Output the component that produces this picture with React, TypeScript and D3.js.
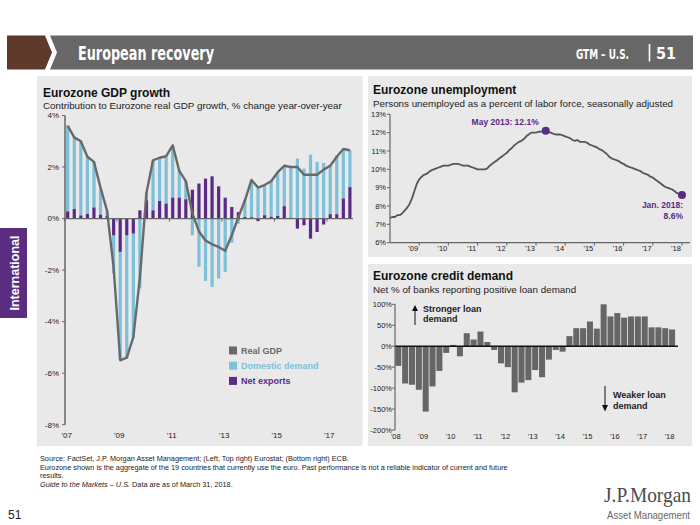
import React from 'react';
import * as d3 from 'd3';

// ---------- Eurozone GDP growth: quarterly, 2007 Q1 – 2017 Q4 (% y/y) ----------
const realGdp = [
  3.6, 3.15, 3.0, 2.4,
  2.2, 1.2, 0.3, -1.9,
  -5.5, -5.4, -4.6, -2.3,
  1.0, 2.26, 2.36, 2.42,
  2.84, 1.85, 1.45, 0.2,
  -0.5, -0.85, -1.0, -1.1,
  -1.25, -0.65, 0.05, 0.7,
  1.5, 1.2, 1.3, 1.45,
  1.8, 2.05, 2.0, 2.0,
  1.7, 1.7, 1.7, 1.9,
  2.05, 2.4, 2.7, 2.65,
];
const domesticDemand = [
  3.34, 2.79, 2.88, 2.22,
  1.77, 1.0, 0.2, -1.48,
  -4.2, -4.78, -4.07, -2.71,
  0.3, 1.94, 1.68, 1.83,
  2.03, 1.07, 0.72, -0.65,
  -1.87, -2.42, -2.65, -2.33,
  -2.07, -0.94, -0.2, 0.7,
  1.4, 1.16, 1.16, 1.41,
  1.7, 1.52, 1.95, 2.33,
  1.94, 2.48, 2.2, 2.16,
  1.9, 2.28, 1.89, 1.43,
];
const netExports = [
  0.28, 0.37, 0.12, 0.18,
  0.43, 0.15, 0.1, -0.65,
  -1.29, -0.65, -0.58, 0.32,
  0.71, 0.32, 0.68, 0.58,
  0.81, 0.81, 0.75, 1.12,
  1.36, 1.55, 1.64, 1.25,
  0.81, 0.45, 0.25, 0.06,
  0.05, -0.1, 0.13, 0.07,
  0.1, 0.48, 0.03, -0.39,
  -0.26, -0.78, -0.52, -0.23,
  0.17, 0.17, 0.78, 1.22,
];
const gdpYTicks = [4, 2, 0, -2, -4, -6, -8];
const gdpXLabels = ["'07", "'09", "'11", "'13", "'15", "'17"];

// ---------- Eurozone unemployment: monthly, Jan 2008 – Jan 2018 (%) ----------
const unemployment = [
  7.35, 7.4, 7.4, 7.5, 7.5, 7.6, 7.75, 7.9, 8.1, 8.4, 8.8, 9.2,
  9.45, 9.6, 9.7, 9.75, 9.85, 9.95, 10.0, 10.05, 10.1, 10.15, 10.2, 10.2,
  10.2, 10.25, 10.3, 10.3, 10.3, 10.25, 10.2, 10.2, 10.2, 10.15, 10.1, 10.05,
  10.0, 10.0, 10.0, 10.0, 10.05, 10.2, 10.3, 10.4, 10.5, 10.6, 10.7, 10.8,
  10.9, 11.05, 11.15, 11.3, 11.4, 11.5, 11.55, 11.65, 11.8, 11.9, 12.0, 12.0,
  12.0, 12.05, 12.05, 12.1, 12.1, 12.05, 12.0, 11.95, 11.9, 11.9, 11.9, 11.85,
  11.8, 11.75, 11.7, 11.6, 11.55, 11.6, 11.5, 11.5, 11.5, 11.45, 11.35, 11.3,
  11.25, 11.2, 11.1, 11.05, 10.95, 10.85, 10.7, 10.6, 10.55, 10.5, 10.45, 10.35,
  10.3, 10.2, 10.15, 10.1, 10.05, 10.0, 9.95, 9.9, 9.8, 9.75, 9.7, 9.6,
  9.55, 9.45, 9.35, 9.25, 9.15, 9.05, 9.0, 8.95, 8.9, 8.8, 8.7, 8.65,
  8.6,
];
const unempPeakIndex = 64; // May 2013
const unempYTicks = [6, 7, 8, 9, 10, 11, 12, 13];
const unempXLabels = ["'09", "'10", "'11", "'12", "'13", "'14", "'15", "'16", "'17", "'18"];

// ---------- Eurozone credit demand: quarterly, 2008 Q1 – 2018 Q1 (net %) ----------
const creditDemand = [
  -47, -89, -92, -104,
  -156, -96, -59, -16,
  3, -24, 31, 16,
  35, 10, -9, -41,
  -50, -110, -87, -81,
  -57, -74, -32, -9,
  -13, 24, 43, 43,
  59, 42, 100, 71,
  79, 68, 71, 71,
  71, 45, 45, 43,
  40,
];
const creditYTicks = [100, 50, 0, -50, -100, -150, -200];
const creditXLabels = ["'08", "'09", "'10", "'11", "'12", "'13", "'14", "'15", "'16", "'17", "'18"];

const SANS = 'Liberation Sans, Arial, Helvetica, sans-serif';
const NARROW = "'Liberation Sans Narrow', 'DejaVu Sans Condensed', sans-serif";
const PANEL = '#e9e9e9';
const BLUE = '#7cc0da';
const PURPLE = '#5b2a87';
const LINE = '#696969';

const GdpChart = () => {
  const x = d3.scaleLinear().domain([0, realGdp.length - 1]).range([67.7, 349.9]);
  const y = d3.scaleLinear().domain([-8, 4]).range([424.7, 115.5]);
  const bw = 3.2;
  const line = d3.line<number>().x((_, i) => x(i)).y((d) => y(d));

  const bars = realGdp.map((_, i) => {
    const n = netExports[i];
    const dd = domesticDemand[i];
    const base = Math.sign(n) === Math.sign(dd) ? n : 0;
    return { i, n, d0: base, d1: base + dd };
  });

  return (
    <g fontFamily={SANS}>
      <text x={43} y={97} fontSize={12} fontWeight="bold" fill="#111">Eurozone GDP growth</text>
      <text x={43} y={109} fontSize={9.8} fill="#222">Contribution to Eurozone real GDP growth, % change year-over-year</text>

      {bars.map((b) => (
        <g key={b.i}>
          <rect x={x(b.i) - bw / 2} width={bw} y={y(Math.max(b.d0, b.d1))} height={Math.abs(y(b.d0) - y(b.d1))} fill={BLUE} />
          <rect x={x(b.i) - bw / 2} width={bw} y={y(Math.max(0, b.n))} height={Math.abs(y(0) - y(b.n))} fill={PURPLE} />
        </g>
      ))}

      <line x1={65} x2={353} y1={y(0)} y2={y(0)} stroke="#666" strokeWidth={1.3} />
      {gdpXLabels.map((_, k) => (
        <line key={k} x1={x(k * 8) - 3.3} x2={x(k * 8) - 3.3} y1={y(0)} y2={y(0) + 3} stroke="#666" strokeWidth={1} />
      ))}
      <path d={line(realGdp) || ''} fill="none" stroke={LINE} strokeWidth={2.4} strokeLinejoin="round" />

      <line x1={65} x2={65} y1={y(4)} y2={y(-8)} stroke="#666" strokeWidth={1.5} />
      {gdpYTicks.map((t) => (
        <g key={t}>
          <line x1={62} x2={65} y1={y(t)} y2={y(t)} stroke="#666" strokeWidth={1} />
          <text x={59} y={y(t) + 2.8} textAnchor="end" fontSize={8} fill="#222">{t}%</text>
        </g>
      ))}
      {gdpXLabels.map((l, k) => (
        <text key={l} x={x(k * 8) - 1} y={438} textAnchor="middle" fontSize={8} fill="#222">{l}</text>
      ))}

      {[
        { label: 'Real GDP', color: LINE },
        { label: 'Domestic demand', color: BLUE },
        { label: 'Net exports', color: PURPLE },
      ].map((item, k) => (
        <g key={item.label} transform={`translate(229,${346.5 + k * 15.2})`}>
          <rect width={8} height={8} fill={item.color} />
          <text x={12} y={7.5} fontSize={9} fontWeight="bold" fill={item.color}>{item.label}</text>
        </g>
      ))}
    </g>
  );
};

const UnemploymentChart = () => {
  const x = d3.scaleLinear().domain([0, unemployment.length - 1]).range([390, 682]);
  const y = d3.scaleLinear().domain([6, 13]).range([242.7, 114.3]);
  const line = d3.line<number>().x((_, i) => x(i)).y((d) => y(d));
  const last = unemployment.length - 1;

  return (
    <g fontFamily={SANS}>
      <text x={373} y={94} fontSize={12} fontWeight="bold" fill="#111">Eurozone unemployment</text>
      <text x={373} y={106.5} fontSize={9.8} fill="#222">Persons unemployed as a percent of labor force, seasonally adjusted</text>

      <line x1={390} x2={390} y1={y(13)} y2={y(6)} stroke="#666" strokeWidth={1.2} />
      <line x1={390} x2={690} y1={y(6)} y2={y(6)} stroke="#666" strokeWidth={1.2} />
      {unempYTicks.map((t) => (
        <g key={t}>
          <line x1={387} x2={390} y1={y(t)} y2={y(t)} stroke="#666" />
          <text x={386} y={y(t) + 2.6} textAnchor="end" fontSize={7.5} fill="#222">{t}%</text>
        </g>
      ))}
      {unempXLabels.map((l, k) => (
        <g key={l}>
          <line x1={x((k + 1) * 12)} x2={x((k + 1) * 12)} y1={y(6)} y2={y(6) + 3} stroke="#666" />
          <text x={x((k + 1) * 12) - 6} y={251} textAnchor="middle" fontSize={7.5} fill="#222">{l}</text>
        </g>
      ))}

      <path d={line(unemployment) || ''} fill="none" stroke="#555" strokeWidth={1.8} strokeLinejoin="round" />
      <circle cx={x(unempPeakIndex)} cy={y(unemployment[unempPeakIndex])} r={4} fill={PURPLE} />
      <circle cx={x(last)} cy={y(unemployment[last])} r={4} fill={PURPLE} />
      <text x={x(unempPeakIndex) - 7} y={125} textAnchor="end" fontSize={8.5} fontWeight="bold" fill={PURPLE}>
        May 2013: {unemployment[unempPeakIndex].toFixed(1)}%
      </text>
      <text x={683} y={208} textAnchor="end" fontSize={8.5} fontWeight="bold" fill={PURPLE}>Jan. 2018:</text>
      <text x={683} y={218.5} textAnchor="end" fontSize={8.5} fontWeight="bold" fill={PURPLE}>
        {unemployment[last].toFixed(1)}%
      </text>
    </g>
  );
};

const CreditChart = () => {
  const x = d3.scaleBand<number>().domain(d3.range(creditDemand.length)).range([395.3, 675.1]).paddingInner(0.12);
  const y = d3.scaleLinear().domain([-200, 100]).range([430, 304.3]);

  return (
    <g fontFamily={SANS}>
      <text x={373} y={280} fontSize={12} fontWeight="bold" fill="#111">Eurozone credit demand</text>
      <text x={373} y={292.5} fontSize={9.8} fill="#222">Net % of banks reporting positive loan demand</text>

      {creditDemand.map((v, i) => (
        <rect key={i} x={x(i)} width={x.bandwidth()} y={y(Math.max(0, v))} height={Math.abs(y(v) - y(0))} fill="#666" />
      ))}
      <line x1={395} x2={678} y1={y(0)} y2={y(0)} stroke="#111" strokeWidth={1.5} />

      <line x1={395} x2={395} y1={y(100)} y2={y(-200)} stroke="#666" strokeWidth={1.2} />
      {creditYTicks.map((t) => (
        <g key={t}>
          <line x1={392} x2={395} y1={y(t)} y2={y(t)} stroke="#666" />
          <text x={392} y={y(t) + 2.6} textAnchor="end" fontSize={7.5} fill="#222">{t}%</text>
        </g>
      ))}
      {creditXLabels.map((l, k) => (
        <text key={l} x={(x(k * 4) || 0) + x.bandwidth() / 2 - 2.5} y={439} textAnchor="middle" fontSize={7.5} fill="#222">{l}</text>
      ))}

      <line x1={415} x2={415} y1={325} y2={310} stroke="#111" strokeWidth={1} />
      <path d="M412,311 L415,305 L418,311 Z" fill="#111" />
      <text x={423} y={311.5} fontSize={9} fontWeight="bold" fill="#222">Stronger loan</text>
      <text x={423} y={321.5} fontSize={9} fontWeight="bold" fill="#222">demand</text>

      <line x1={605} x2={605} y1={386} y2={406} stroke="#111" strokeWidth={1} />
      <path d="M602,405 L605,411.5 L608,405 Z" fill="#111" />
      <text x={613} y={398} fontSize={9} fontWeight="bold" fill="#222">Weaker loan</text>
      <text x={613} y={408.5} fontSize={9} fontWeight="bold" fill="#222">demand</text>
    </g>
  );
};

const App = () => {
  return (
    <div style={{ position: 'fixed', left: 0, top: 0, width: 700, height: 525, background: '#fff' }}>
      <svg width={700} height={525} viewBox="0 0 700 525" style={{ display: 'block' }}>
        <rect width={700} height={525} fill="#fff" />

        {/* header band */}
        <polygon points="7,35.5 45,35.5 52,52.5 45,69.5 7,69.5" fill="#5e3a2b" />
        <polygon points="50,35.5 693,35.5 693,69.5 50,69.5 57,52.5" fill="#676767" />
        <text x={78} y={59.5} fontFamily={NARROW} fontSize={19} fontWeight="bold"
          fill="#fff" textLength={136} lengthAdjust="spacingAndGlyphs">European recovery</text>
        <text x={629} y={58.5} textAnchor="end" fontFamily={NARROW} fontWeight="bold"
          fontSize={13.5} fill="#fff" textLength={53} lengthAdjust="spacingAndGlyphs">GTM – U.S.</text>
        <line x1={649.5} x2={649.5} y1={44} y2={61.5} stroke="#fff" strokeWidth={1.6} />
        <text x={676} y={59} textAnchor="end" fontFamily={NARROW} fontWeight="bold"
          fontSize={16} fill="#fff">51</text>

        {/* panels */}
        <rect x={37} y={76} width={325.5} height={370} fill={PANEL} />
        <rect x={368} y={76} width={324} height={181} fill={PANEL} />
        <rect x={368} y={264} width={324} height={182} fill={PANEL} />

        {/* side tab */}
        <rect x={0} y={228} width={27} height={90} fill="#5a2d81" />
        <text transform="translate(18.5,273) rotate(-90)" textAnchor="middle" fontFamily={SANS} fontSize={12.5}
          fontWeight="bold" fill="#fff">International</text>

        <GdpChart />
        <UnemploymentChart />
        <CreditChart />

        {/* footer */}
        <g fontFamily={SANS} fontSize={7.3} fill="#222">
          <text x={40} y={461}>Source: FactSet, J.P. Morgan Asset Management; (Left, Top right) Eurostat; (Bottom right) ECB.</text>
          <text x={40} y={469.5}>Eurozone shown is the aggregate of the 19 countries that currently use the euro. Past performance is not a reliable indicator of current and future</text>
          <text x={40} y={478}>results.</text>
          <text x={40} y={486.5}><tspan fontStyle="italic">Guide to the Markets – U.S.</tspan> Data are as of March 31, 2018.</text>
        </g>
        <text x={8} y={519} fontFamily={SANS} fontSize={12} fill="#222">51</text>
        <text x={691} y={502} textAnchor="end" fontFamily="'Liberation Serif', 'DejaVu Serif', serif" fontSize={21}
          fill="#4b4b4b" textLength={87} lengthAdjust="spacingAndGlyphs">J.P.Morgan</text>
        <text x={690} y={519} textAnchor="end" fontFamily={SANS}
          fontSize={10.5} fill="#666" textLength={83} lengthAdjust="spacingAndGlyphs">Asset Management</text>
      </svg>
    </div>
  );
};

export default App;
